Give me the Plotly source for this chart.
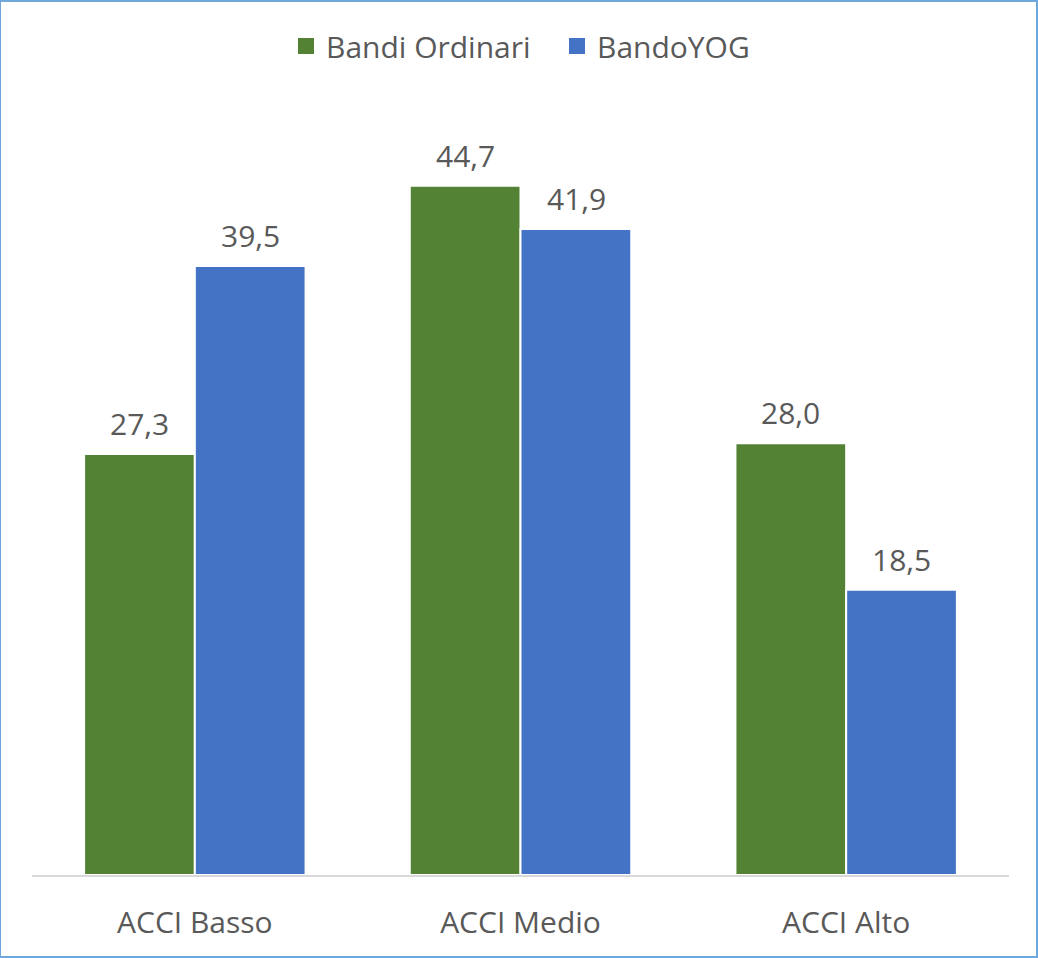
import plotly.graph_objects as go

categories = ["ACCI Basso", "ACCI Medio", "ACCI Alto"]
bandi_ordinari = [27.3, 44.7, 28.0]
bando_yog = [39.5, 41.9, 18.5]

GREEN = "#548235"
BLUE = "#4472C4"
TEXT = "#595959"
FONT = "Open Sans"
SIZE = 30

series = [
    ("Bandi Ordinari", bandi_ordinari, GREEN, -1),
    ("BandoYOG", bando_yog, BLUE, 1),
]

fig = go.Figure()
annotations = []
for name, values, color, side in series:
    fig.add_trace(go.Bar(
        name=name,
        x=categories,
        y=values,
        marker=dict(color=color, line=dict(color="white", width=2)),
        showlegend=False,
    ))
    # legend entry with a larger square swatch
    fig.add_trace(go.Scatter(
        name=name,
        x=[None],
        y=[None],
        mode="markers",
        marker=dict(symbol="square", size=20, color=color),
    ))
    # value labels above each bar
    for cat, v in zip(categories, values):
        annotations.append(dict(
            x=cat, y=v, xref="x", yref="y",
            text=f"{v:.1f}".replace(".", ","),
            showarrow=False,
            xshift=side * 55.5,
            yshift=8,
            yanchor="bottom",
            font=dict(size=SIZE, color=TEXT, family=FONT),
        ))

fig.update_layout(
    width=1038,
    height=958,
    barmode="group",
    bargap=0.32,
    bargroupgap=0,
    paper_bgcolor="white",
    plot_bgcolor="white",
    margin=dict(l=32, r=29, t=104, b=83),
    font=dict(family=FONT, color=TEXT, size=SIZE),
    legend=dict(
        orientation="h",
        xref="container",
        x=0.5 + 38 / 1038, xanchor="center",
        y=1 - 46 / 958, yanchor="middle",
        yref="container",
        font=dict(size=SIZE, color=TEXT),
        traceorder="normal",
        itemwidth=30,
        entrywidth=226,
        entrywidthmode="pixels",
    ),
    xaxis=dict(
        showline=True, linecolor="#D9D9D9", linewidth=2,
        ticks="", tickfont=dict(size=SIZE, color=TEXT),
        ticklabelstandoff=20,
    ),
    yaxis=dict(
        range=[0, 50], showgrid=False, showticklabels=False,
        zeroline=False, showline=False,
    ),
    annotations=annotations,
    shapes=[dict(
        type="rect", xref="paper", yref="paper",
        x0=-32 / 977, x1=1 + 28 / 977, y0=-82 / 771, y1=1 + 103 / 771,
        line=dict(color="#6FA8DC", width=2), fillcolor="rgba(0,0,0,0)",
        layer="above",
    )],
)

fig.write_html("out.html")
